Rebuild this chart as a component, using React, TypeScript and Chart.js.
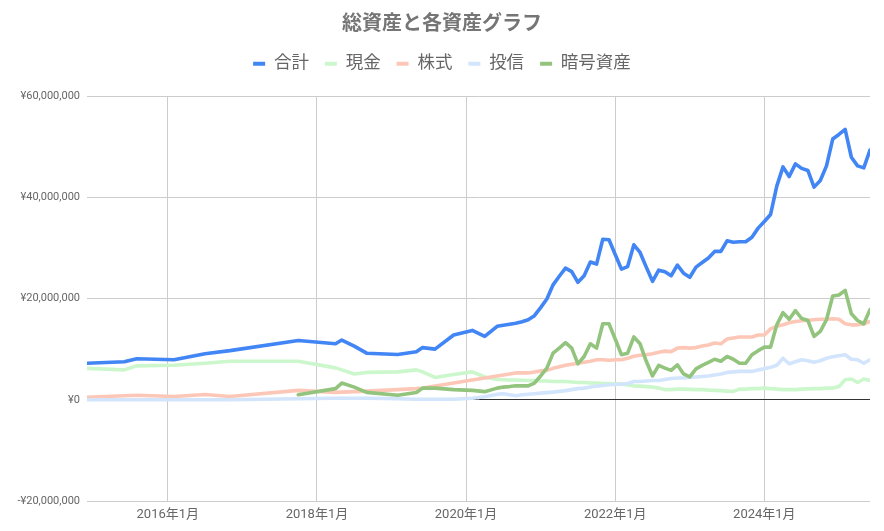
import { useEffect, useRef } from "react";
import { Chart, registerables } from "chart.js";

Chart.register(...registerables);

// Dates of each observation (YYYY-MM)
const dates: string[] = [
  "2014-12", "2015-06", "2015-08", "2016-02", "2016-07", "2016-11", "2017-10",
  "2018-04", "2018-05", "2018-07", "2018-09", "2019-02", "2019-05", "2019-06",
  "2019-08", "2019-11", "2020-02", "2020-04",
  "2020-06", "2020-07", "2020-08", "2020-09", "2020-10", "2020-11", "2020-12",
  "2021-01", "2021-02", "2021-03", "2021-04", "2021-05", "2021-06", "2021-07",
  "2021-08", "2021-09", "2021-10", "2021-11", "2021-12",
  "2022-01", "2022-02", "2022-03", "2022-04", "2022-05", "2022-06", "2022-07",
  "2022-08", "2022-09", "2022-10", "2022-11", "2022-12",
  "2023-01", "2023-02", "2023-03", "2023-04", "2023-05", "2023-06", "2023-07",
  "2023-08", "2023-09", "2023-10", "2023-11", "2023-12",
  "2024-01", "2024-02", "2024-03", "2024-04", "2024-05", "2024-06", "2024-07",
  "2024-08", "2024-09", "2024-10", "2024-11", "2024-12",
  "2025-01", "2025-02", "2025-03", "2025-04", "2025-05", "2025-06",
];

// Values in millions of yen
const totalM: number[] = [
  7.2, 7.5, 8.1, 7.9, 9.1, 9.7, 11.7, 11.05, 11.8, 10.6, 9.2, 8.95, 9.5, 10.3, 10.0, 12.8, 13.7, 12.5,
  14.5, 14.7, 14.9, 15.1, 15.4, 15.8, 16.6, 18.2, 19.9, 22.7,
  24.4, 26, 25.3, 23.2, 24.5, 27.2, 26.8, 31.7, 31.6, 28.7,
  25.8, 26.3, 30.6, 29.1, 26.2, 23.4, 25.6, 25.3, 24.5, 26.6,
  25, 24.2, 26.2, 27.1, 28, 29.3, 29.3, 31.4, 31.1, 31.2,
  31.2, 32.1, 33.9, 35.2, 36.6, 42.2, 46, 44.1, 46.6, 45.7,
  45.3, 42, 43.3, 46.2, 51.5, 52.4, 53.4, 47.9, 46.2, 45.8,
  49.3,
];

const cashM: number[] = [
  6.2, 5.9, 6.7, 6.8, 7.2, 7.6, 7.6, 6.3, 5.9, 5.1, 5.4, 5.5, 5.9, 5.5, 4.4, 5.0, 5.5, 4.5,
  4.0, 3.95, 3.9, 3.9, 3.85, 3.8, 3.8, 3.7, 3.7, 3.6,
  3.6, 3.6, 3.5, 3.4, 3.4, 3.3, 3.3, 3.2, 3.2, 3.15,
  3.1, 2.9, 2.75, 2.7, 2.6, 2.5, 2.3, 2.0, 2.0, 2.1,
  2.1, 2.05, 2.0, 2.0, 1.9, 1.85, 1.8, 1.7, 1.65, 2.1,
  2.1, 2.2, 2.2, 2.3, 2.2, 2.1, 2.0, 2.0, 2.0, 2.1,
  2.15, 2.2, 2.2, 2.3, 2.3, 2.6, 3.95, 4.1, 3.4, 4.1,
  3.8,
];

const stockM: number[] = [
  0.5, 0.8, 0.9, 0.65, 1.05, 0.65, 1.85, 1.45, 1.5, 1.6, 1.7, 2.0, 2.2, 2.3, 2.7, 3.3, 3.9, 4.3,
  4.7, 4.9, 5.1, 5.3, 5.3, 5.3, 5.5, 5.7, 5.8, 6.2,
  6.5, 6.8, 7.0, 7.2, 7.4, 7.6, 7.9, 7.9, 7.8, 7.9,
  7.9, 8.2, 8.6, 8.8, 8.9, 9.1, 9.4, 9.6, 9.5, 10.2,
  10.3, 10.2, 10.3, 10.6, 10.8, 11.2, 11.05, 12, 12.2, 12.4,
  12.4, 12.4, 12.8, 12.8, 14, 14.5, 14.8, 15.2, 15.45, 15.6,
  15.7, 15.8, 15.9, 15.9, 16, 15.9, 15, 14.8, 14.8, 15,
  15.45,
];

const fundM: number[] = [
  0, 0, 0, 0, 0, 0, 0.2, 0.3, 0.3, 0.3, 0.3, 0.2, 0.1, 0.1, 0.1, 0.1, 0.3, 0.6,
  1.1, 1.2, 1.0, 0.8, 1.0, 1.1, 1.2, 1.3, 1.4, 1.5,
  1.65, 1.8, 2.0, 2.2, 2.3, 2.5, 2.7, 2.8, 2.95, 3.0,
  3.1, 3.2, 3.6, 3.6, 3.7, 3.8, 3.8, 4.0, 4.2, 4.3,
  4.3, 4.4, 4.5, 4.6, 4.7, 4.9, 5.1, 5.4, 5.5, 5.6,
  5.6, 5.6, 5.9, 6.1, 6.4, 6.8, 8.2, 7.1, 7.5, 7.9,
  7.7, 7.4, 7.7, 8.2, 8.5, 8.7, 8.9, 8.0, 7.9, 7.2,
  7.9,
];

const cryptoM: (number | null)[] = [
  null, null, null, null, null, null, 1.0, 2.2, 3.3, 2.5, 1.45, 0.9, 1.45, 2.3, 2.3, 2.0, 1.85, 1.6,
  2.3, 2.5, 2.6, 2.75, 2.75, 2.75, 3.3, 4.7, 6.25, 9.2,
  10.2, 11.3, 10.2, 7.1, 8.55, 11.05, 10.2, 15, 15, 12,
  8.9, 9.2, 12.4, 11.05, 7.6, 4.7, 6.8, 6.25, 5.8, 6.9,
  5.1, 4.5, 6.1, 6.8, 7.4, 8.0, 7.6, 8.55, 8.0, 7.2,
  7.2, 8.9, 9.7, 10.4, 10.4, 14.8, 17.2, 15.9, 17.6, 16.05,
  15.65, 12.5, 13.5, 15.8, 20.5, 20.7, 21.6, 17, 15.65, 15,
  17.8,
];

const seriesNames: string[] = ["合計", "現金", "株式", "投信", "暗号資産"];
const seriesColors: string[] = ["#4285f4", "#ccf7cc", "#fdc7b7", "#d2e5fc", "#93c47d"];

const xTickYears: number[] = [2016, 2018, 2020, 2022, 2024];
const xTickLabels: string[] = ["2016年1月", "2018年1月", "2020年1月", "2022年1月", "2024年1月"];
const xMinDate = "2014-12";
const xMaxDate = "2025-06";

const yMin = -20000000;
const yMax = 60000000;
const yStep = 20000000;

const FONT = "Roboto, 'Noto Sans CJK JP', sans-serif";

function monthIndex(d: string): number {
  const [y, m] = d.split("-").map(Number);
  return (y - 2016) * 12 + (m - 1);
}

function formatYen(v: number): string {
  const abs = Math.abs(v).toLocaleString("en-US");
  return (v < 0 ? "-¥" : "¥") + abs;
}

const legendSpacer = {
  id: "legendSpacer",
  beforeLayout(chart: any) {
    const lg = chart.legend;
    if (lg && !lg._spaced) {
      const orig = lg.fit.bind(lg);
      lg.fit = function () {
        orig();
        this.height += 13.5;
      };
      lg._spaced = true;
    }
  },
};

export default function App() {
  const ref = useRef<HTMLCanvasElement>(null);

  useEffect(() => {
    document.body.style.margin = "0";
    const xs = dates.map(monthIndex);
    const all = [totalM, cashM, stockM, fundM, cryptoM];
    const datasets = all.map((arr, si) => ({
      label: seriesNames[si],
      data: arr
        .map((v, i) => (v === null ? null : { x: xs[i], y: (v as number) * 1e6 }))
        .filter((p) => p !== null),
      borderColor: seriesColors[si],
      backgroundColor: seriesColors[si],
      borderWidth: 3.6,
      pointRadius: 0,
      pointHoverRadius: 0,
      tension: 0,
      borderJoinStyle: "round" as const,
      borderCapStyle: "round" as const,
      order: all.length - 1 - si,
      yAxisID: "y",
    }));

    const tickValues = xTickYears.map((y) => (y - 2016) * 12);

    const chart = new Chart(ref.current as HTMLCanvasElement, {
      type: "line",
      data: { datasets: datasets as any },
      plugins: [legendSpacer],
      options: {
        animation: false,
        responsive: true,
        maintainAspectRatio: false,
        layout: { padding: 0 },
        plugins: {
          title: {
            display: true,
            text: "総資産と各資産グラフ",
            color: "#757575",
            font: { family: FONT, size: 20, weight: "bold", lineHeight: 1.2 },
            padding: { top: 13, bottom: 2 },
          },
          legend: {
            display: true,
            position: "top",
            labels: {
              color: "#666666",
              font: { family: FONT, size: 17.5 },
              boxWidth: 12,
              boxHeight: 4,
              padding: 16,
              sort: (a: any, b: any) => a.datasetIndex - b.datasetIndex,
              generateLabels: (c: any) =>
                (Chart.defaults.plugins.legend.labels.generateLabels as any)(c).map((l: any) => ({
                  ...l,
                  lineWidth: 0,
                  fillStyle: seriesColors[l.datasetIndex],
                })),
            },
          },
          tooltip: { enabled: false },
        },
        scales: {
          x: {
            type: "linear",
            min: monthIndex(xMinDate),
            max: monthIndex(xMaxDate),
            afterBuildTicks: (axis: any) => {
              axis.ticks = tickValues.map((value) => ({ value }));
            },
            afterFit: (scale: any) => {
              scale.height = 30;
            },
            ticks: {
              color: "#666666",
              font: { family: FONT, size: 13 },
              padding: 6,
              maxRotation: 0,
              autoSkip: false,
              callback: (v: any) => {
                const idx = tickValues.indexOf(Number(v));
                return idx >= 0 ? xTickLabels[idx] : "";
              },
            },
            grid: { color: "#cccccc", lineWidth: 1, drawTicks: false },
            border: { display: false },
          },
          y: {
            type: "linear",
            position: "left",
            min: yMin,
            max: yMax,
            afterFit: (scale: any) => {
              scale.width = 87;
            },
            ticks: {
              stepSize: yStep,
              color: "#666666",
              font: { family: FONT, size: 11 },
              padding: 7,
              callback: (v: any) => formatYen(Number(v)),
            },
            grid: {
              color: (ctx: any) => (ctx.tick && ctx.tick.value === 0 ? "#333333" : "#cccccc"),
              lineWidth: 1,
              drawTicks: false,
            },
            border: { display: false },
          },
          yRight: {
            type: "linear",
            position: "right",
            display: true,
            afterFit: (scale: any) => {
              scale.width = 14;
            },
            ticks: { display: false },
            grid: { display: false, drawTicks: false },
            border: { display: false },
          },
        },
      },
    });
    return () => chart.destroy();
  }, []);

  return (
    <div style={{ width: 884, height: 531, position: "relative" }}>
      <canvas ref={ref} />
    </div>
  );
}
